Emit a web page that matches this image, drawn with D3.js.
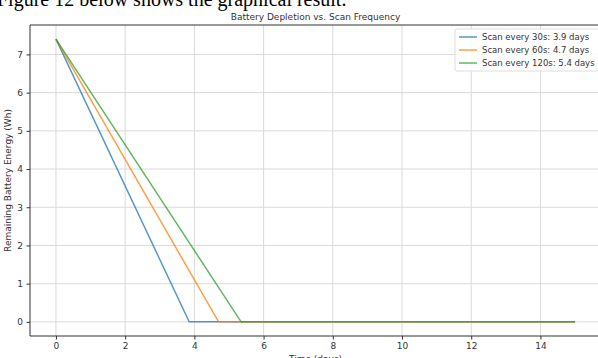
<!DOCTYPE html>
<html>
<head>
<meta charset="utf-8">
<script src="https://cdn.jsdelivr.net/npm/d3@7"></script>
<style>
  body { margin: 0; background: #fff; overflow: hidden; }
  svg { display: block; font-family: "DejaVu Sans", sans-serif; }
</style>
</head>
<body>
<svg width="598" height="358"></svg>
<script>
// Data
const seriesNames = ["Scan every 30s: 3.9 days", "Scan every 60s: 4.7 days", "Scan every 120s: 5.4 days"];
const seriesColors = ["#1f77b4", "#ff7f0e", "#2ca02c"];
const startEnergy = 7.4;
const depletionDays = [3.85, 4.7, 5.35];
const endDay = 15;
const xTicks = [0, 2, 4, 6, 8, 10, 12, 14];
const yTicks = [0, 1, 2, 3, 4, 5, 6, 7];

// each series: full battery at day 0, empty at depletion, flat afterwards
const series = seriesNames.map((name, i) => ({
  name,
  color: seriesColors[i],
  points: [[0, startEnergy], [depletionDays[i], 0], [endDay, 0]],
}));

const svg = d3.select("svg");
const plotL = 30, plotT = 25, plotR = 601, plotB = 336;

const x = d3.scaleLinear().domain([-0.75, 15.75]).range([plotL, plotR]);
const y = d3.scaleLinear().domain([-0.37, 7.77]).range([plotB, plotT]);

// caption text above the figure (cut off at top)
svg.append("text")
  .attr("x", -3)
  .attr("y", 6)
  .attr("font-family", "Liberation Serif, serif")
  .attr("font-size", 20)
  .attr("fill", "#000")
  .text("Figure 12 below shows the graphical result.");

// grid
const grid = svg.append("g").attr("stroke", "#d9d9d9").attr("stroke-width", 1);
grid.selectAll(".gx").data(xTicks).join("line")
  .attr("x1", (d) => x(d)).attr("x2", (d) => x(d))
  .attr("y1", plotT).attr("y2", plotB);
grid.selectAll(".gy").data(yTicks).join("line")
  .attr("x1", plotL).attr("x2", plotR)
  .attr("y1", (d) => y(d)).attr("y2", (d) => y(d));

// axes
const xAxis = svg.append("g")
  .attr("transform", `translate(0,${plotB})`)
  .call(d3.axisBottom(x).tickValues(xTicks).tickSize(3.5).tickPadding(3.5));
const yAxis = svg.append("g")
  .attr("transform", `translate(${plotL},0)`)
  .call(d3.axisLeft(y).tickValues(yTicks).tickSize(3.5).tickPadding(3.5));
[xAxis, yAxis].forEach((a) => {
  a.select(".domain").remove();
  a.selectAll("line").attr("stroke", "#333");
  a.selectAll("text").attr("font-size", 9).attr("fill", "#333")
    .attr("font-family", "DejaVu Sans, sans-serif");
});

// spines
svg.append("path")
  .attr("d", `M${plotR},${plotT}H${plotL}V${plotB}H${plotR}`)
  .attr("fill", "none")
  .attr("stroke", "#333")
  .attr("stroke-width", 1);

// lines
const line = d3.line().x((d) => x(d[0])).y((d) => y(d[1]));
svg.append("g").selectAll("path").data(series).join("path")
  .attr("d", (d) => line(d.points))
  .attr("fill", "none")
  .attr("stroke", (d) => d.color)
  .attr("stroke-width", 1.5)
  .attr("opacity", 0.75);

// title and labels
svg.append("text")
  .attr("x", (plotL + plotR) / 2)
  .attr("y", 19.5)
  .attr("text-anchor", "middle")
  .attr("font-size", 9)
  .attr("fill", "#333")
  .text("Battery Depletion vs. Scan Frequency");

svg.append("text")
  .attr("x", (plotL + plotR) / 2)
  .attr("y", 362)
  .attr("text-anchor", "middle")
  .attr("font-size", 9)
  .attr("fill", "#333")
  .text("Time (days)");

svg.append("text")
  .attr("transform", `translate(11,${(plotT + plotB) / 2}) rotate(-90)`)
  .attr("text-anchor", "middle")
  .attr("font-size", 9)
  .attr("fill", "#333")
  .text("Remaining Battery Energy (Wh)");

// legend
const legend = svg.append("g").attr("transform", "translate(455,29)");
legend.append("rect")
  .attr("width", 145).attr("height", 42).attr("rx", 2)
  .attr("fill", "#fff").attr("fill-opacity", 0.85)
  .attr("stroke", "#ddd");
const item = legend.selectAll(".item").data(series).join("g")
  .attr("transform", (d, i) => `translate(0,${8 + i * 13})`);
item.append("line")
  .attr("x1", 4).attr("x2", 22)
  .attr("stroke", (d) => d.color).attr("stroke-width", 1.5).attr("opacity", 0.75);
item.append("text")
  .attr("x", 27).attr("dy", "0.35em")
  .attr("font-size", 8.5).attr("fill", "#333")
  .text((d) => d.name);
</script>
</body>
</html>
